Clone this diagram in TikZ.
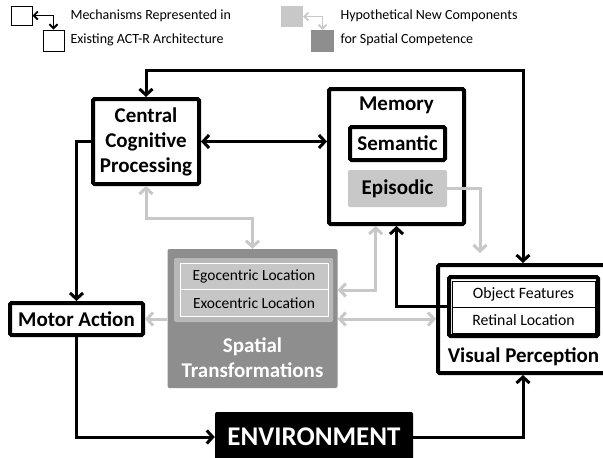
\documentclass[tikz,border=0pt]{standalone}
\usepackage{fontspec}
\setmainfont{Carlito}
\usepackage{tikz}
\usetikzlibrary{arrows.meta}
\usetikzlibrary{calc}
\definecolor{paleGray}{HTML}{C8C8C8}
\definecolor{spatialGray}{HTML}{8E8E8E}
\definecolor{innerGray}{HTML}{B8B8B8}
\definecolor{rowGray}{HTML}{C6C6C6}

\begin{document}
\begin{tikzpicture}[x=1pt, y=-1pt,
        >={Straight Barb[length=6pt, width=13pt]},
        blk/.style={draw=black, line width=4pt, fill=white, inner sep=0pt, rounded corners=1.5pt},
        lbl/.style={font=\bfseries\fontsize{21}{25}\selectfont, align=center},
        vrow/.style={draw=black, line width=0.8pt, minimum width=143pt, minimum height=26pt, inner sep=0pt, font=\fontsize{15.8}{17}\selectfont},
        srow/.style={draw=white, line width=0.8pt, fill=rowGray, minimum width=148pt, minimum height=26.5pt, inner sep=0pt, font=\fontsize{15.5}{17}\selectfont},
        flow/.style={line width=3pt, draw=black},
        hypo/.style={line width=3pt, draw=paleGray},
        legtxt/.style={anchor=west, align=left, font=\fontsize{14}{24}\selectfont}]
        \useasboundingbox (0, 0) rectangle (603, 458);
        \clip (0, 0) rectangle (603, 458);

        \node[draw, line width=1pt, minimum width=21pt, minimum height=19pt] (oldA) at (21.5, 15.5) {};
        \node[draw, line width=1pt, minimum width=21pt, minimum height=21pt] (oldB) at (53.5, 40.5) {};
        \draw[line width=1.8pt, {Straight Barb[length=4pt, width=8pt]}-{Straight Barb[length=4pt, width=8pt]}] (oldA.east) -| (oldB.north);
        \node[legtxt] (oldtxt) at (67, 28) {Mechanisms Represented in\\Existing ACT-R Architecture};

        \node[fill=paleGray, minimum width=22pt, minimum height=21pt] (newA) at (292, 16.5) {};
        \node[fill=spatialGray, minimum width=23pt, minimum height=22pt] (newB) at (322.5, 41) {};
        \draw[line width=1.8pt, paleGray, {Straight Barb[length=4pt, width=8pt]}-{Straight Barb[length=4pt, width=8pt]}] (newA.east) -| (newB.north);
        \node[legtxt] (newtxt) at (337, 28) {Hypothetical New Components\\for Spatial Competence};

        \node[blk, lbl, minimum width=106pt, minimum height=85pt] (ccp) at (146, 141.5) {Central\\Cognitive\\Processing};

        \node[blk, minimum width=135pt, minimum height=135pt] (memory) at (396.5, 156.5) {};
        \node[lbl] (memtitle) at (396.5, 105) {Memory};
        \node[blk, lbl, minimum width=95pt, minimum height=33pt] (semantic) at (397.5, 143.5) {Semantic};
        \node[fill=paleGray, rounded corners=2pt, lbl, minimum width=99pt, minimum height=37pt] (episodic) at (397.5, 188.5) {Episodic};

        \node[blk, minimum width=170pt, minimum height=108pt] (vision) at (523, 319) {};
        \node[blk, minimum width=149pt, minimum height=59pt] (vbox) at (523.5, 306.5) {};
        \node[vrow] (objfeat) at (523.5, 294) {Object Features};
        \node[vrow] (retloc) at (523.5, 320) {Retinal Location};
        \node[lbl] (vistitle) at (523.5, 357) {Visual Perception};

        \node[fill=spatialGray, rounded corners=2pt, minimum width=170pt, minimum height=139pt] (spatial) at (252.5, 318.5) {};
        \node[fill=innerGray, rounded corners=2pt, minimum width=159pt, minimum height=64pt] (spinner) at (253.5, 290) {};
        \node[srow] (egoloc) at (254, 276.5) {Egocentric Location};
        \node[srow] (exoloc) at (254, 303) {Exocentric Location};
        \node[lbl, text=white] (sptitle) at (252.5, 357.5) {Spatial\\Transformations};

        \node[blk, lbl, minimum width=133pt, minimum height=32pt] (motor) at (76.5, 319) {Motor Action};

        \node[fill=black, rounded corners=2pt, text=white, font=\bfseries\fontsize{27}{30}\selectfont, minimum width=198pt, minimum height=50pt] (env) at (314, 437) {ENVIRONMENT};

        \coordinate (epiend) at (480, 253);

        \draw[hypo, ->] (episodic.east) -| (epiend);
        \draw[hypo, <->] (ccp.south) -- ++(0, 32) -| (spatial.north);
        \draw[hypo, <->] (spinner.center -| spatial.east) -| ($(memory.south west)!0.35!(memory.south east)$);
        \draw[hypo, <->] (spatial.east |- vision.west) -- (vision.west);
        \draw[hypo, ->] (spatial.west |- motor.east) -- (motor.east);

        \draw[flow, <->] (ccp.north) -- ++(0, -27) -| (vision.north);
        \draw[flow, <->] (ccp.east) -- (ccp.east -| memory.west);
        \draw[flow, ->] (ccp.west) -| (motor.north);
        \draw[flow, ->] (motor.south) |- (env.west);
        \draw[flow, ->] (env.east) -| (vision.south);
        \draw[flow, ->] (vbox.west) -| (memory.south);
\end{tikzpicture}
\end{document}
